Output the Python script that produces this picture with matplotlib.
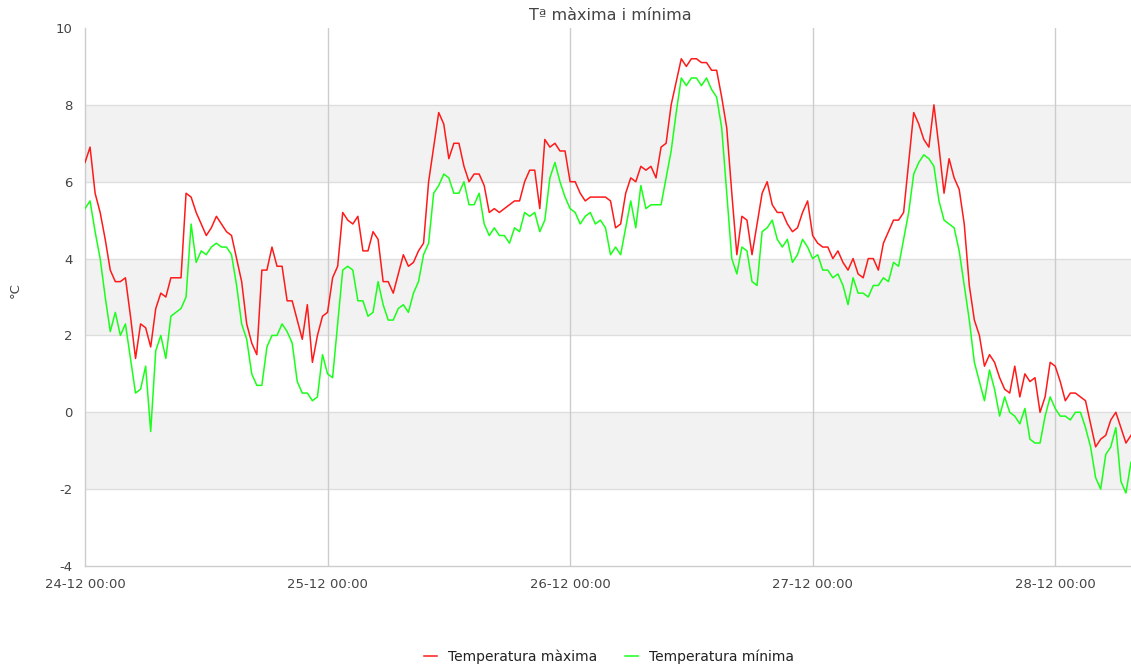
import matplotlib
matplotlib.use("Agg")
import matplotlib.pyplot as plt
import numpy as np

# Half-hourly readings starting 24-12 00:00
t_max = [6.5, 6.9, 5.7, 5.2, 4.5, 3.7, 3.4, 3.4, 3.5, 2.5, 1.4, 2.3, 2.2, 1.7, 2.7, 3.1, 3.0, 3.5, 3.5, 3.5,
         5.7, 5.6, 5.2, 4.9, 4.6, 4.8, 5.1, 4.9, 4.7, 4.6, 4.0, 3.4, 2.3, 1.8, 1.5, 3.7, 3.7, 4.3, 3.8, 3.8,
         2.9, 2.9, 2.4, 1.9, 2.8, 1.3, 2.0, 2.5, 2.6, 3.5, 3.8, 5.2, 5.0, 4.9, 5.1, 4.2, 4.2, 4.7, 4.5, 3.4,
         3.4, 3.1, 3.6, 4.1, 3.8, 3.9, 4.2, 4.4, 6.0, 6.9, 7.8, 7.5, 6.6, 7.0, 7.0, 6.4, 6.0, 6.2, 6.2, 5.9,
         5.2, 5.3, 5.2, 5.3, 5.4, 5.5, 5.5, 6.0, 6.3, 6.3, 5.3, 7.1, 6.9, 7.0, 6.8, 6.8, 6.0, 6.0, 5.7, 5.5,
         5.6, 5.6, 5.6, 5.6, 5.5, 4.8, 4.9, 5.7, 6.1, 6.0, 6.4, 6.3, 6.4, 6.1, 6.9, 7.0, 8.0, 8.6, 9.2, 9.0,
         9.2, 9.2, 9.1, 9.1, 8.9, 8.9, 8.2, 7.4, 5.7, 4.1, 5.1, 5.0, 4.1, 4.9, 5.7, 6.0, 5.4, 5.2, 5.2, 4.9,
         4.7, 4.8, 5.2, 5.5, 4.6, 4.4, 4.3, 4.3, 4.0, 4.2, 3.9, 3.7, 4.0, 3.6, 3.5, 4.0, 4.0, 3.7, 4.4, 4.7,
         5.0, 5.0, 5.2, 6.5, 7.8, 7.5, 7.1, 6.9, 8.0, 6.9, 5.7, 6.6, 6.1, 5.8, 4.9, 3.3, 2.4, 2.0, 1.2, 1.5,
         1.3, 0.9, 0.6, 0.5, 1.2, 0.4, 1.0, 0.8, 0.9, 0.0, 0.4, 1.3, 1.2, 0.8, 0.3, 0.5, 0.5, 0.4, 0.3, -0.3,
         -0.9, -0.7, -0.6, -0.2, 0.0, -0.4, -0.8, -0.6]

t_min = [5.3, 5.5, 4.7, 4.0, 3.0, 2.1, 2.6, 2.0, 2.3, 1.4, 0.5, 0.6, 1.2, -0.5, 1.6, 2.0, 1.4, 2.5, 2.6, 2.7,
         3.0, 4.9, 3.9, 4.2, 4.1, 4.3, 4.4, 4.3, 4.3, 4.1, 3.3, 2.3, 1.9, 1.0, 0.7, 0.7, 1.7, 2.0, 2.0, 2.3,
         2.1, 1.8, 0.8, 0.5, 0.5, 0.3, 0.4, 1.5, 1.0, 0.9, 2.3, 3.7, 3.8, 3.7, 2.9, 2.9, 2.5, 2.6, 3.4, 2.8,
         2.4, 2.4, 2.7, 2.8, 2.6, 3.1, 3.4, 4.1, 4.4, 5.7, 5.9, 6.2, 6.1, 5.7, 5.7, 6.0, 5.4, 5.4, 5.7, 4.9,
         4.6, 4.8, 4.6, 4.6, 4.4, 4.8, 4.7, 5.2, 5.1, 5.2, 4.7, 5.0, 6.1, 6.5, 6.0, 5.6, 5.3, 5.2, 4.9, 5.1,
         5.2, 4.9, 5.0, 4.8, 4.1, 4.3, 4.1, 4.8, 5.5, 4.8, 5.9, 5.3, 5.4, 5.4, 5.4, 6.1, 6.8, 7.8, 8.7, 8.5,
         8.7, 8.7, 8.5, 8.7, 8.4, 8.2, 7.4, 5.7, 4.0, 3.6, 4.3, 4.2, 3.4, 3.3, 4.7, 4.8, 5.0, 4.5, 4.3, 4.5,
         3.9, 4.1, 4.5, 4.3, 4.0, 4.1, 3.7, 3.7, 3.5, 3.6, 3.3, 2.8, 3.5, 3.1, 3.1, 3.0, 3.3, 3.3, 3.5, 3.4,
         3.9, 3.8, 4.5, 5.2, 6.2, 6.5, 6.7, 6.6, 6.4, 5.5, 5.0, 4.9, 4.8, 4.2, 3.3, 2.4, 1.3, 0.8, 0.3, 1.1,
         0.6, -0.1, 0.4, 0.0, -0.1, -0.3, 0.1, -0.7, -0.8, -0.8, -0.1, 0.4, 0.1, -0.1, -0.1, -0.2, 0.0, 0.0, -0.4, -0.9,
         -1.7, -2.0, -1.1, -0.9, -0.4, -1.8, -2.1, -1.3]

x_tick_labels = ["24-12 00:00", "25-12 00:00", "26-12 00:00", "27-12 00:00", "28-12 00:00"]
y_ticks = [-4, -2, 0, 2, 4, 6, 8, 10]

hours = np.arange(len(t_max)) * 0.5

W, H = 1131, 666
fig = plt.figure(figsize=(W / 100, H / 100), dpi=100)
ax = fig.add_axes([85 / W, 1 - 566 / H, (1131 - 85) / W, (566 - 28) / H])

# alternating bands
for lo in [-2, 2, 6]:
    ax.axhspan(lo, lo + 2, color="#f2f2f2", zorder=0, lw=0)
for yv in y_ticks[1:-1]:
    ax.axhline(yv, color="#dedede", lw=1, zorder=1)
for d in range(1, 5):
    ax.axvline(d * 24, color="#cccccc", lw=1, zorder=1)

ax.plot(hours, t_max, color="#ff1a1a", lw=1.1, zorder=3, label="Temperatura màxima")
ax.plot(hours, t_min, color="#1aff1a", lw=1.1, zorder=3, label="Temperatura mínima")

ax.set_xlim(0, hours[-1])
ax.set_ylim(-4, 10)
ax.set_yticks(y_ticks)
ax.set_yticklabels([str(v) for v in y_ticks])
ax.set_xticks([0, 24, 48, 72, 96])
ax.set_xticklabels(x_tick_labels)
ax.tick_params(axis="both", length=0, labelsize=9.5, labelcolor="#444444")
ax.tick_params(axis="x", pad=9)
ax.tick_params(axis="y", pad=9)

for s in ["top", "right"]:
    ax.spines[s].set_visible(False)
for s in ["left", "bottom"]:
    ax.spines[s].set_color("#cccccc")
    ax.spines[s].set_linewidth(1)

fig.text(610 / W, 1 - 15 / H, "Tª màxima i mínima", ha="center", va="center",
         fontsize=11.5, color="#444444")
fig.text(15 / W, 1 - 290 / H, "°C", ha="center", va="center", rotation=90,
         fontsize=9.5, color="#444444")

leg = fig.legend(loc="center", bbox_to_anchor=(609 / W, 1 - 657 / H), ncol=2, frameon=False,
                 fontsize=10, handlelength=0.9, columnspacing=2.0, handletextpad=0.8)
for txt in leg.get_texts():
    txt.set_color("#222222")

fig.savefig("out.png", dpi=100)
